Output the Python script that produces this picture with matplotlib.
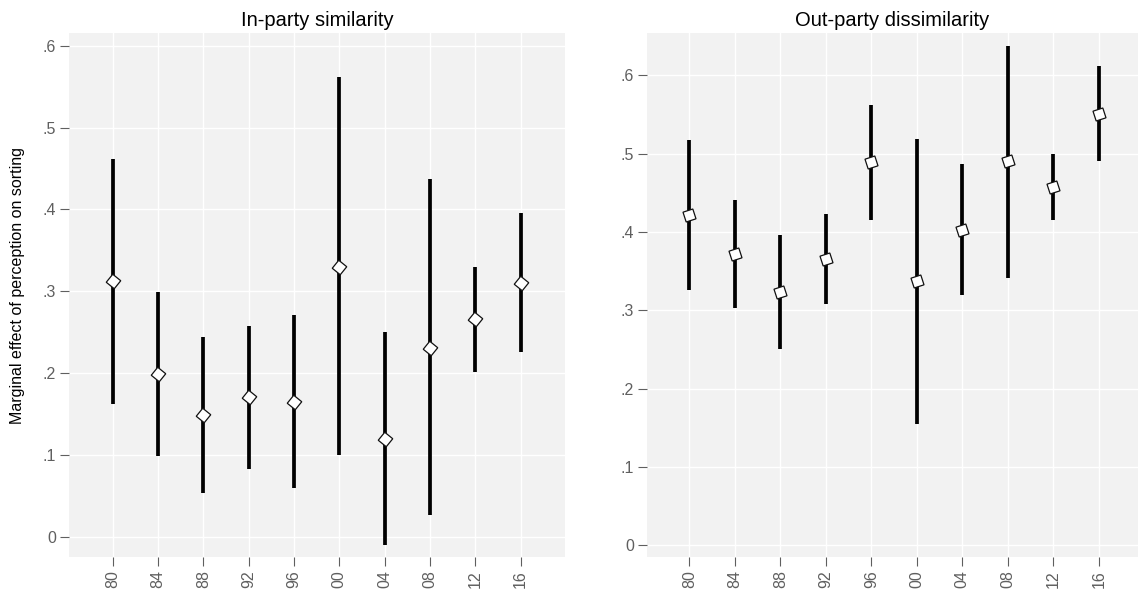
import matplotlib
matplotlib.use('Agg')
import matplotlib.pyplot as plt
from matplotlib.ticker import FuncFormatter

years = ['80', '84', '88', '92', '96', '00', '04', '08', '12', '16']

# in-party similarity: point estimate and 95% interval
in_est = [0.312, 0.199, 0.149, 0.171, 0.165, 0.330, 0.120, 0.231, 0.266, 0.310]
in_lo = [0.162, 0.099, 0.054, 0.083, 0.060, 0.100, -0.010, 0.026, 0.201, 0.226]
in_hi = [0.462, 0.299, 0.244, 0.258, 0.271, 0.562, 0.250, 0.437, 0.330, 0.395]

# out-party dissimilarity
out_est = [0.421, 0.372, 0.323, 0.366, 0.489, 0.337, 0.403, 0.490, 0.458, 0.551]
out_lo = [0.326, 0.303, 0.251, 0.308, 0.415, 0.155, 0.319, 0.341, 0.415, 0.490]
out_hi = [0.517, 0.441, 0.396, 0.423, 0.562, 0.519, 0.487, 0.637, 0.500, 0.612]

in_ticks = [0, 0.1, 0.2, 0.3, 0.4, 0.5, 0.6]
out_ticks = [0, 0.1, 0.2, 0.3, 0.4, 0.5, 0.6]

plt.rcParams['font.family'] = ['Liberation Sans', 'DejaVu Sans']
grey = '#5f5f5f'


def fmt(v, _pos):
    if abs(v) < 1e-9:
        return '0'
    return '{:.1f}'.format(v).lstrip('0')


def panel(ax, title, est, lo, hi, ticks, ylim, xlim, angle):
    xs = list(range(1, len(years) + 1))
    ax.set_facecolor('#f2f2f2')
    for s in ax.spines.values():
        s.set_visible(False)
    ax.grid(True, color='white', linewidth=1.0)
    ax.set_axisbelow(True)
    ax.vlines(xs, lo, hi, color='black', linewidth=2.7, zorder=3)
    ax.plot(xs, est, linestyle='', marker=(4, 0, angle), markersize=10.5,
            markerfacecolor='white', markeredgecolor='#111111',
            markeredgewidth=0.9, zorder=4)
    ax.set_xticks(xs)
    ax.set_xticklabels(years, rotation=90)
    ax.set_yticks(ticks)
    ax.yaxis.set_major_formatter(FuncFormatter(fmt))
    ax.set_ylim(*ylim)
    ax.set_xlim(*xlim)
    ax.tick_params(axis='both', colors=grey, labelcolor=grey, labelsize=11.5,
                   length=6.5, width=0.8, direction='out', pad=3)
    ax.set_title(title, fontsize=14.5, color='black', pad=5)


fig = plt.figure(figsize=(11.38, 5.92), dpi=100)
ax1 = fig.add_axes([69 / 1138, 35 / 592, 496 / 1138, 524 / 592])
ax2 = fig.add_axes([647 / 1138, 35 / 592, 491 / 1138, 524 / 592])

panel(ax1, 'In-party similarity', in_est, in_lo, in_hi, in_ticks,
      (-0.0248, 0.6155), (0.035, 10.98), 6)
panel(ax2, 'Out-party dissimilarity', out_est, out_lo, out_hi, out_ticks,
      (-0.015, 0.654), (0.07, 10.86), 63)

ax1.set_ylabel('Marginal effect of perception on sorting', fontsize=11.5,
               color='black')
ax1.yaxis.set_label_coords(-0.089, 0.518)

fig.savefig('out.png', dpi=100)
